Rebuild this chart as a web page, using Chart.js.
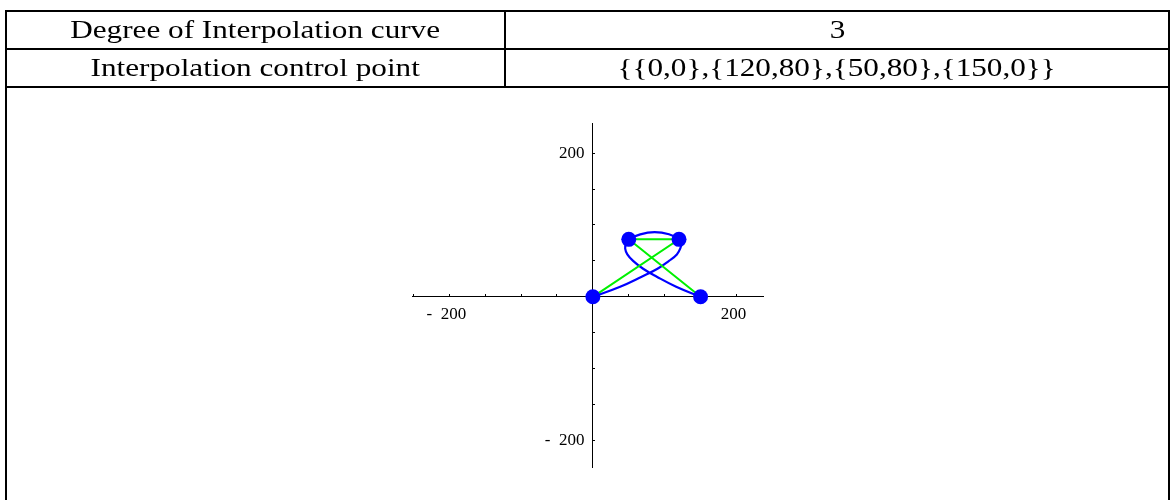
<!DOCTYPE html>
<html>
<head>
<meta charset="utf-8">
<script src="https://cdn.jsdelivr.net/npm/chart.js@4.4.0/dist/chart.umd.min.js"></script>
<style>
  html, body { margin: 0; padding: 0; background: #fff; }
  body { width: 1171px; height: 500px; position: relative; overflow: hidden; font-family: 'Liberation Serif', 'Times New Roman', serif; }
  #grafica { position: absolute; left: 0; top: 0; }
  .linea { position: absolute; background: #000; }
  .celda { position: absolute; height: 36px; line-height: 36px; text-align: center; font-size: 26px; color: #000; white-space: nowrap; }
  .celda span { display: inline-block; transform: scaleX(1.2); transform-origin: 50% 50%; }
</style>
</head>
<body>
<canvas id="grafica" width="1171" height="500"></canvas>

<!-- tabla -->
<div class="linea" style="left:5px; top:10px; width:1165px; height:2px;"></div>
<div class="linea" style="left:5px; top:48px; width:1165px; height:2px;"></div>
<div class="linea" style="left:5px; top:86px; width:1165px; height:2px;"></div>
<div class="linea" style="left:5px; top:10px; width:2px; height:490px;"></div>
<div class="linea" style="left:504px; top:10px; width:2px; height:78px;"></div>
<div class="linea" style="left:1168px; top:10px; width:2px; height:490px;"></div>

<div class="celda" style="left:7px; top:12px; width:497px;"><span>Degree of Interpolation curve</span></div>
<div class="celda" style="left:506px; top:12px; width:662px;"><span>3</span></div>
<div class="celda" style="left:7px; top:50px; width:497px;"><span>Interpolation control point</span></div>
<div class="celda" style="left:506px; top:50px; width:662px;"><span>{{0,0},{120,80},{50,80},{150,0}}</span></div>

<script>
// puntos de control
const control_x = [0, 120, 50, 150];
const control_y = [0, 80, 80, 0];

// curva interpolada
const curva_x = [0, 38, 68, 90, 106, 117, 122, 123, 120, 106, 86, 66, 50, 46, 45, 48, 56, 70, 89, 116, 150];
const curva_y = [0, 14, 28, 39, 50, 59, 68, 74, 80, 87, 90, 87, 80, 74, 67, 59, 50, 39, 28, 14, 0];

// etiquetas de los ejes
const etiquetas_x = { '-200': '-  200', '200': '200' };
const etiquetas_y = { '-200': '-  200  ', '200': '200  ' };

const puntos = control_x.map((x, i) => ({ x: x, y: control_y[i] }));
const curva = curva_x.map((x, i) => ({ x: x, y: curva_y[i] }));

const grafica = document.getElementById('grafica');

function eje(etiquetas, extra) {
  return Object.assign({
    type: 'linear',
    grid: { display: true, drawOnChartArea: false, drawTicks: true, tickLength: -3, color: '#000', lineWidth: 1 },
    border: { display: true, color: '#000', width: 1 },
    ticks: {
      stepSize: 50,
      includeBounds: false,
      autoSkip: false,
      maxRotation: 0,
      padding: 11,
      color: '#000',
      font: { family: 'Liberation Serif', size: 17 },
      callback: (v) => etiquetas[String(v)] || ''
    }
  }, extra);
}

const eje_x = eje(etiquetas_x, { min: -252, max: 237, position: { y: 0 } });
eje_x.ticks.labelOffset = -3;
const eje_y = eje(etiquetas_y, { min: -237, max: 242, position: { x: 0 } });

new Chart(grafica, {
  type: 'scatter',
  data: {
    datasets: [{
      label: 'puntos',
      data: puntos,
      showLine: false,
      pointRadius: 7.5,
      pointBackgroundColor: '#0000ff',
      pointBorderWidth: 0,
      order: 0
    }, {
      label: 'poligono',
      data: puntos,
      showLine: true,
      borderColor: '#00f000',
      borderWidth: 2,
      pointRadius: 0,
      tension: 0,
      order: 1
    }, {
      label: 'curva',
      data: curva,
      showLine: true,
      borderColor: '#0000ff',
      borderWidth: 2.2,
      pointRadius: 0,
      tension: 0.4,
      order: 2
    }]
  },
  options: {
    responsive: false,
    animation: false,
    layout: { padding: { left: 412, right: 408, top: 123, bottom: 33 } },
    plugins: { legend: { display: false }, tooltip: { enabled: false } },
    scales: { x: eje_x, y: eje_y }
  }
});
</script>
</body>
</html>
